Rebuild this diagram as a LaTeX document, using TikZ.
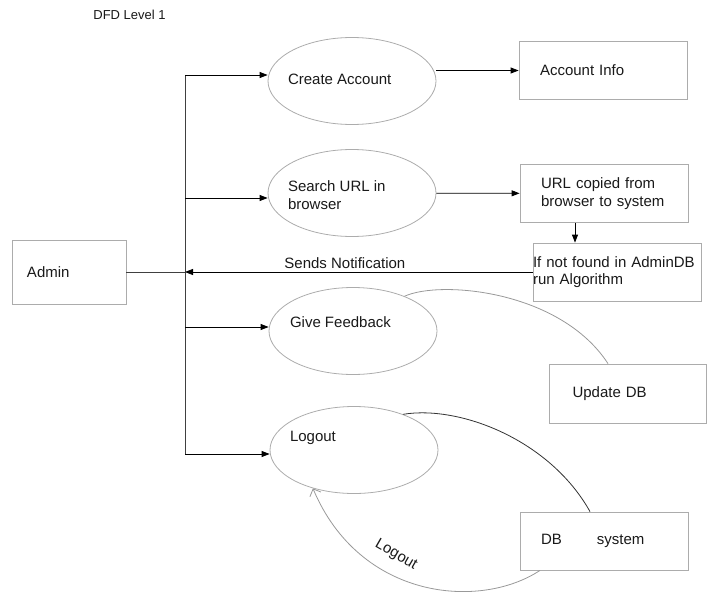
\documentclass[tikz,border=0pt]{standalone}
\usepackage{fontspec}
\setmainfont{Liberation Sans}
\usetikzlibrary{shapes, arrows.meta, positioning}

\begin{document}
\begin{tikzpicture}[x=1pt, y=-1pt, >={Triangle[length=8pt, width=6pt]}, line width=0.8pt,
    font=\fontsize{15}{17.5}\selectfont, text=black!90]
    \tikzset{
        proc/.style={draw=gray!65, ellipse, minimum width=168pt, minimum height=87pt, inner sep=0pt},
        store/.style={draw=gray!65, rectangle, minimum width=168pt, minimum height=58pt, text width=126pt, inner xsep=21pt, align=left},
        lbl/.style={align=left, inner sep=0pt}
    }
    \useasboundingbox (0,0) rectangle (707,594);

    \node[anchor=west, inner sep=0pt, font=\fontsize{13}{15}\selectfont] (title) at (93,15) {DFD Level 1};

    % external entity and processes
    \node[store, minimum width=114pt, minimum height=64pt, text width=84pt, inner xsep=15pt] (admin) at (69,272) {Admin};

    \node[proc] (create) at (352,81) {};
    \node[lbl, right=20pt of create.west, yshift=2pt] (createtxt) {Create Account};

    \node[proc] (search) at (352,193) {};
    \node[lbl, right=20pt of search.west, yshift=-2pt] (searchtxt) {Search URL in\\browser};

    \node[proc] (feedback) at (353,331) {};
    \node[lbl, right=21pt of feedback.west, yshift=9pt] (feedbacktxt) {Give Feedback};

    \node[proc] (logout) at (354,450) {};
    \node[lbl, right=20pt of logout.west, yshift=12pt] (logouttxt) {Logout};

    % data stores
    \node[store] (acct) at (603,70.5) {Account Info};
    \node[store] (url) at (604,193.5) {URL copied from\\browser to system};
    \node[store, text width=168pt, inner xsep=0pt] (ifbox) at (617,272) {If not found in AdminDB\\run Algorithm};
    \node[store, minimum width=157pt, text width=111pt, minimum height=59pt, inner xsep=23pt] (update) at (628,393.5) {Update DB};
    \node[store] (dbsys) at (604,541) {DB\hspace{35pt}system};

    % admin bus
    \coordinate (bustop) at (185,75);
    \coordinate (busbot) at (185,454);
    \draw[black!75] (bustop) -- (busbot);
    \draw[black!75] (admin.east) -- (admin.east -| bustop);
    \draw[->] (bustop) -- (bustop -| create.west);
    \draw[->] (185,198) -- (search.west |- 185,198);
    \draw[->] (185,327) -- (feedback.west |- 185,327);
    \draw[->] (busbot) -- (busbot -| logout.west);

    \draw[->] (create.east |- acct.west) -- (acct.west);
    \draw[->] (search) -- (url);
    \draw[->] ([xshift=-29pt]url.south) -- ([xshift=-29pt]url.south |- ifbox.north);
    \draw[->] (ifbox.west) -- (ifbox.west -| bustop)
        node[pos=0.54, above=3pt, inner sep=0pt] {Sends Notification};

    % curved flows
    \draw[gray!80] (feedback.34) .. controls (440,280) and (560,290) .. ([xshift=-20pt]update.north);
    \draw[black!80] (logout.36) .. controls (460,405) and (550,440) .. ([xshift=-14pt]dbsys.north);
    \draw[gray!80, -{Straight Barb[length=6pt, width=12pt]}] ([xshift=-64pt]dbsys.south)
        .. controls (480,610) and (360,600) .. (logout.223);
    \node[rotate=-30] (logoutlbl) at (396,555) {Logout};
\end{tikzpicture}
\end{document}
